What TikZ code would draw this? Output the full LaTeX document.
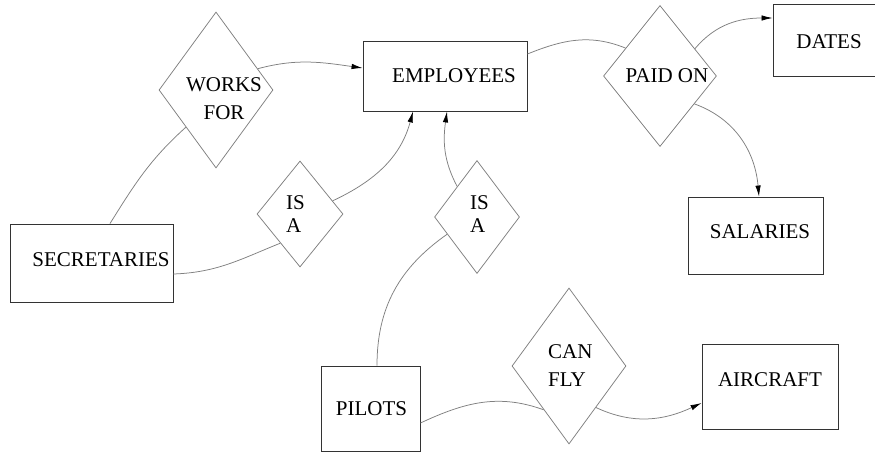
\documentclass[tikz,border=0pt]{standalone}
\usepackage{fontspec}
\setmainfont{Liberation Serif}
\usetikzlibrary{shapes.geometric,arrows.meta}
\tikzset{
  ent/.style={draw=black!80, line width=0.9pt, rectangle, inner sep=0pt},
  rel/.style={draw=black!50, line width=0.75pt, diamond, inner sep=0pt},
  txt/.style={font=\fontsize{21}{28}\selectfont, text=black, inner sep=0pt},
  con/.style={draw=black!50, line width=0.75pt},
  arr/.style={con, -{Latex[length=11pt,width=5.5pt,black]}},
}
\begin{document}
\begin{tikzpicture}[x=1pt,y=-1pt]
\useasboundingbox (0,0) rectangle (875,452);
\fill[white] (0,0) rectangle (875,452);
\begin{scope}
\clip (0,0) rectangle (875,452);
% entity boxes
\node[ent, minimum width=163pt, minimum height=78pt] (sec) at (91.5,263) {};
\node[ent, minimum width=164pt, minimum height=70pt] (emp) at (445,76) {};
\node[ent, minimum width=117pt, minimum height=72pt] (dat) at (831.5,40) {};
\node[ent, minimum width=135pt, minimum height=77pt] (sal) at (755.5,235.5) {};
\node[ent, minimum width=99pt, minimum height=85pt] (pil) at (370.5,408.5) {};
\node[ent, minimum width=136pt, minimum height=85pt] (air) at (770,386.5) {};
% box labels
\node[txt] (tsec) at (101,260) {SECRETARIES};
\node[txt] (temp) at (454,76) {EMPLOYEES};
\node[txt] (tdat) at (829,42) {DATES};
\node[txt] (tsal) at (760,232) {SALARIES};
\node[txt] (tpil) at (371.5,409) {PILOTS};
\node[txt] (tair) at (770,380) {AIRCRAFT};
% relationship diamonds
\node[rel, minimum width=114pt, minimum height=156pt] (wf) at (216,90) {};
\node[rel, minimum width=86pt, minimum height=106pt] (isa1) at (300,214) {};
\node[rel, minimum width=85pt, minimum height=113pt] (isa2) at (477,217) {};
\node[rel, minimum width=113pt, minimum height=141pt] (po) at (660,76) {};
\node[rel, minimum width=114pt, minimum height=156pt] (cf) at (569,366) {};
% diamond labels
\node[txt, align=center] (twf) at (224,99) {WORKS\\FOR};
\node[txt, align=left, anchor=west, font=\fontsize{21}{23}\selectfont] (tisa1) at (286,214.5) {IS\\A};
\node[txt, align=left, anchor=west, font=\fontsize{21}{23}\selectfont] (tisa2) at (470,214.5) {IS\\A};
\node[txt] (tpo) at (667,76) {PAID ON};
\node[txt, align=left, anchor=west] (tcf) at (548,366) {CAN\\FLY};
% connectors
\draw[con] ([xshift=18.5pt]sec.north) to[out=58,in=222] (wf.231);
\draw[arr] (wf.27) to[out=15,in=172] ([yshift=8pt]emp.west);
\draw[con] ([yshift=-11pt]sec.east) to[out=2,in=202] (isa1.236);
\draw[arr] (isa1.22) to[out=25,in=255] ([xshift=-32pt]emp.south);
\draw[arr] (isa2.123) to[out=118,in=262] ([xshift=2pt]emp.south);
\draw[con] ([xshift=6.5pt]pil.north) to[out=90,in=215] (isa2.210);
\draw[con] ([yshift=-14.5pt]pil.east) to[out=25,in=160] (cf.240);
\draw[arr] (cf.303) to[out=-25,in=205] ([yshift=-16.5pt]air.west);
\draw[con] ([yshift=22pt]emp.east) to[out=22,in=158] (po.141);
\draw[arr] (po.38) to[out=50,in=180] ([yshift=22pt]dat.west);
\draw[arr] (po.321) to[out=-20,in=95] ([xshift=3.5pt]sal.north);
\end{scope}
\end{tikzpicture}
\end{document}
